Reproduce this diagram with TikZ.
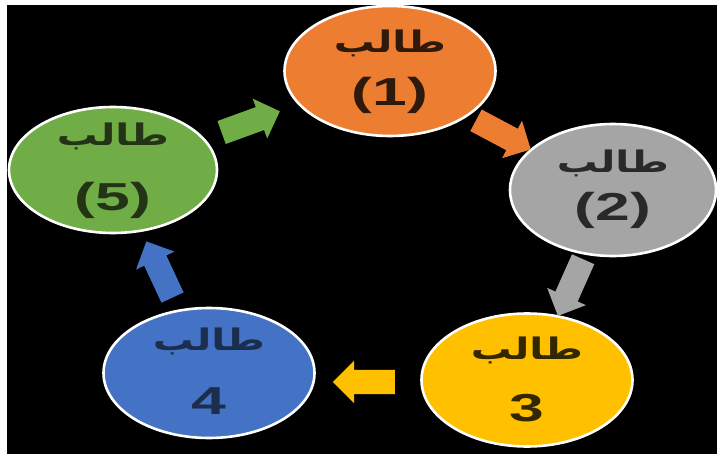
\documentclass[tikz,border=0pt]{standalone}
\usepackage{fontspec}
\setmainfont{Liberation Sans}
\newfontfamily\arabicfont[Script=Arabic]{DejaVu Sans}
\TeXXeTstate=1
\usetikzlibrary{shapes.geometric,shapes.arrows}

\definecolor{orng}{HTML}{ED7D31}
\definecolor{gry}{HTML}{A5A5A5}
\definecolor{ylw}{HTML}{FFC000}
\definecolor{blu}{HTML}{4472C4}
\definecolor{grn}{HTML}{70AD47}

\newcommand{\talib}{\resizebox*{112pt}{27pt}{\arabicfont\bfseries\beginR طالب\endR}}

\tikzset{
  stud/.style={ellipse,draw=white,line width=2.6pt,minimum width=211pt,minimum height=130pt,inner sep=0pt},
  word/.style={inner sep=0pt},
  num/.style={inner sep=0pt,xscale=1.6,font=\bfseries\fontsize{39}{41}\selectfont},
  turn/.style={single arrow,single arrow head extend=9pt,minimum height=62pt,inner xsep=0pt,inner ysep=12pt,draw=none}
}

\begin{document}
\begin{tikzpicture}[x=1pt,y=-1pt]
\fill[white] (0,0) rectangle (717,457);
\useasboundingbox (0,0) rectangle (717,457);
\fill[black] (7,5) rectangle (717,454);

% students
\node[stud,fill=orng] (s1) at (390,71) {};
\node[stud,fill=gry,minimum width=206pt,minimum height=132pt] (s2) at (613,190) {};
\node[stud,fill=ylw,minimum height=133pt] (s3) at (527,380) {};
\node[stud,fill=blu] (s4) at (209,373) {};
\node[stud,fill=grn,minimum width=208pt,minimum height=126pt] (s5) at (113,170) {};

\node[word,text=orng!20!black] (w1) at ([yshift=28pt]s1.center) {\talib};
\node[num,text=orng!20!black] (n1) at ([yshift=-24pt]s1.center) {(1)};
\node[word,text=gry!25!black] (w2) at ([yshift=27pt]s2.center) {\talib};
\node[num,text=gry!25!black] (n2) at ([yshift=-20pt]s2.center) {(2)};
\node[word,text=ylw!20!black] (w3) at ([yshift=30pt]s3.center) {\talib};
\node[num,text=ylw!20!black] (n3) at ([yshift=-28pt]s3.center) {3};
\node[word,text=blu!40!black] (w4) at ([yshift=32pt]s4.center) {\talib};
\node[num,text=blu!40!black] (n4) at ([yshift=-28pt]s4.center) {4};
\node[word,text=grn!30!black] (w5) at ([yshift=34pt]s5.center) {\talib};
\node[num,text=grn!30!black] (n5) at ([yshift=-30pt]s5.center) {(5)};

% arrows round the cycle
\node[turn,fill=orng,rotate=-28] (a12) at (498,132) {};
\node[turn,fill=gry,rotate=-114] (a23) at (573,282) {};
\node[turn,fill=ylw,rotate=180] (a34) at (370,382) {};
\node[turn,fill=blu,rotate=115] (a45) at (162,275) {};
\node[turn,fill=grn,rotate=20] (a51) at (245,124) {};
\end{tikzpicture}
\end{document}
